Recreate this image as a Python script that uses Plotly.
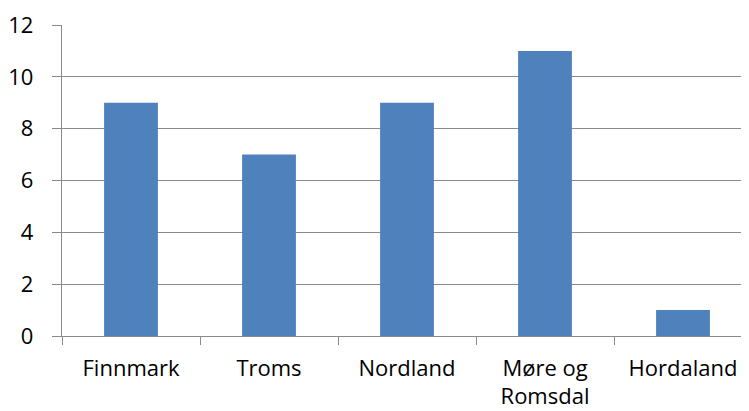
import plotly.graph_objects as go

categories = ["Finnmark", "Troms", "Nordland", "Møre og<br>Romsdal", "Hordaland"]
values = [9, 7, 9, 11, 1]
y_ticks = [0, 2, 4, 6, 8, 10, 12]

fig = go.Figure(go.Bar(
    x=categories, y=values,
    marker=dict(color="#4F81BD", line=dict(width=0)),
    width=0.39,
))

fig.update_layout(
    width=749, height=411,
    margin=dict(l=54, r=5, t=17, b=83, autoexpand=False),
    paper_bgcolor="white", plot_bgcolor="white",
    font=dict(family="Open Sans", size=22, color="#000000"),
    showlegend=False,
)
fig.update_xaxes(
    type="category", range=[-0.5, 4.5], automargin=False,
    showgrid=False, showline=True, linecolor="#8a8a8a", linewidth=1.3,
    tickson="boundaries", ticks="outside", ticklen=8, tickcolor="#8a8a8a", tickwidth=1.3,
    zeroline=False, ticklabelstandoff=12,
)
fig.update_yaxes(
    range=[0, 12], tickvals=y_ticks, automargin=False,
    showgrid=True, gridcolor="#8a8a8a", gridwidth=1.3,
    showline=True, linecolor="#8a8a8a", linewidth=1.3, ticks="outside", ticklen=9,
    tickcolor="#8a8a8a", tickwidth=1.3, zeroline=False, ticklabelstandoff=14,
)
fig.write_html("out.html")
